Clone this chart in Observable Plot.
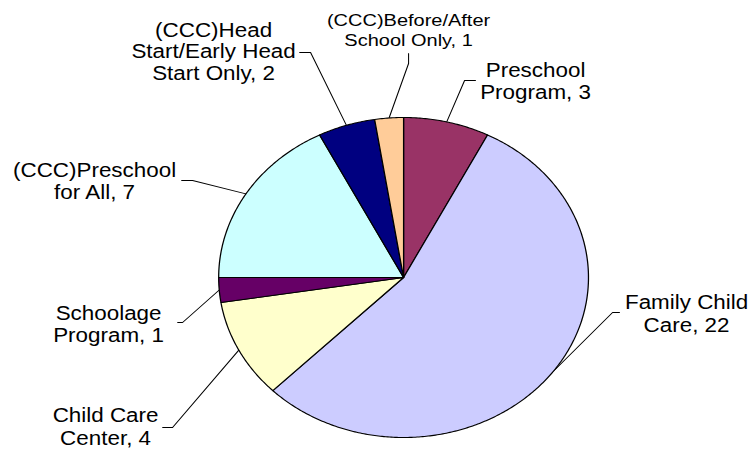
<!DOCTYPE html>
<html>
<head>
<meta charset="utf-8">
<script src="https://cdn.jsdelivr.net/npm/d3@7"></script>
<script src="https://cdn.jsdelivr.net/npm/@observablehq/plot@0.6"></script>
<style>
  html, body { margin: 0; padding: 0; background: #fff; }
  #chart svg { display: block; }
</style>
</head>
<body>
<div id="chart"></div>
<script>
// ---- data ----
const categories = [
  "Preschool Program",
  "Family Child Care",
  "Child Care Center",
  "Schoolage Program",
  "(CCC)Preschool for All",
  "(CCC)Head Start/Early Head Start Only",
  "(CCC)Before/After School Only"
];
const values = [3, 22, 4, 1, 7, 2, 1];
// how each category name is wrapped in its label
const labelWrap = [
  ["Preschool", "Program"],
  ["Family Child", "Care"],
  ["Child Care", "Center"],
  ["Schoolage", "Program"],
  ["(CCC)Preschool", "for All"],
  ["(CCC)Head", "Start/Early Head", "Start Only"],
  ["(CCC)Before/After", "School Only"]
];
const colors = ["#993366", "#CCCCFF", "#FFFFCC", "#660066", "#CCFFFF", "#000080", "#FFCC99"];

// ---- layout (pixels of the 750-wide picture) ----
const W = 649, H = 449, S = 750 / W;          // drawn narrow, then stretched to 750
const pieGeom = {cx: 403 / S, cy: 277, r: 160};
const labelLayout = [
  {x: 535, y: 76,  fs: 19.4, lh: 22.5, leader: [[475, 80], [464, 80]]},
  {x: 686, y: 308, fs: 19.4, lh: 23,   leader: [[619, 312], [612, 312]]},
  {x: 105, y: 421.5, fs: 19.4, lh: 22.5, leader: [[162, 427], [172, 427]]},
  {x: 108, y: 319, fs: 19.4, lh: 22,   leader: [[177, 322], [182, 322]]},
  {x: 94,  y: 176, fs: 19.4, lh: 22,   leader: [[181, 180], [192, 180]]},
  {x: 213, y: 36,  fs: 19.4, lh: 21.5, leader: [[299, 52], [310, 52]]},
  {x: 408, y: 25,  fs: 17.3, lh: 20,   leader: [[408, 53], [408, 63]]}
];

// ---- build geometry from data ----
const arcs = d3.pie().sort(null).startAngle(0).endAngle(2 * Math.PI)(values);
const px = a => pieGeom.cx + pieGeom.r * Math.sin(a);
const py = a => pieGeom.cy - pieGeom.r * Math.cos(a);

const slicePts = [];
arcs.forEach((arc, i) => {
  slicePts.push({i, x: pieGeom.cx, y: pieGeom.cy, color: colors[i]});
  const n = Math.max(2, Math.ceil((arc.endAngle - arc.startAngle) / 0.01));
  for (let k = 0; k <= n; k++) {
    const a = arc.startAngle + (arc.endAngle - arc.startAngle) * k / n;
    slicePts.push({i, x: px(a), y: py(a), color: colors[i]});
  }
  slicePts.push({i, x: pieGeom.cx, y: pieGeom.cy, color: colors[i]});
});

const leaderPts = [];
arcs.forEach((arc, i) => {
  const mid = (arc.startAngle + arc.endAngle) / 2;
  labelLayout[i].leader.forEach(([x, y]) => leaderPts.push({i, x: x / S, y}));
  leaderPts.push({i, x: px(mid), y: py(mid)});
});

const textLines = [];
categories.forEach((c, i) => {
  const lines = labelWrap[i].slice();
  lines[lines.length - 1] += ", " + values[i];
  const L = labelLayout[i];
  lines.forEach((t, k) => {
    const baseline = L.y + k * L.lh;
    textLines.push({text: t, x: L.x / S, y: baseline - 0.71 * L.fs, fs: L.fs});
  });
});

const chart = Plot.plot({
  width: W,
  height: H,
  margin: 0,
  x: {domain: [0, W], range: [0, W], axis: null},
  y: {domain: [0, H], range: [0, H], axis: null},
  color: {type: "identity"},
  style: {fontFamily: "'Liberation Sans', Arial, sans-serif", background: "#fff"},
  marks: [
    Plot.line(leaderPts, {x: "x", y: "y", z: "i", stroke: "#000", strokeWidth: 0.9, curve: "linear"}),
    Plot.line(slicePts, {x: "x", y: "y", z: "i", fill: "color", stroke: "#000", strokeWidth: 1.1, strokeLinejoin: "round", curve: "linear"}),
    Plot.text(textLines, {x: "x", y: "y", text: "text", fontSize: "fs", textAnchor: "middle", lineAnchor: "top", fill: "#000"})
  ]
});

chart.setAttribute("viewBox", `0 0 ${W} ${H}`);
chart.setAttribute("preserveAspectRatio", "none");
chart.setAttribute("width", 750);
chart.setAttribute("height", H);
chart.style.width = "750px";
chart.style.height = H + "px";
chart.style.maxWidth = "none";
document.getElementById("chart").appendChild(chart);
</script>
</body>
</html>
